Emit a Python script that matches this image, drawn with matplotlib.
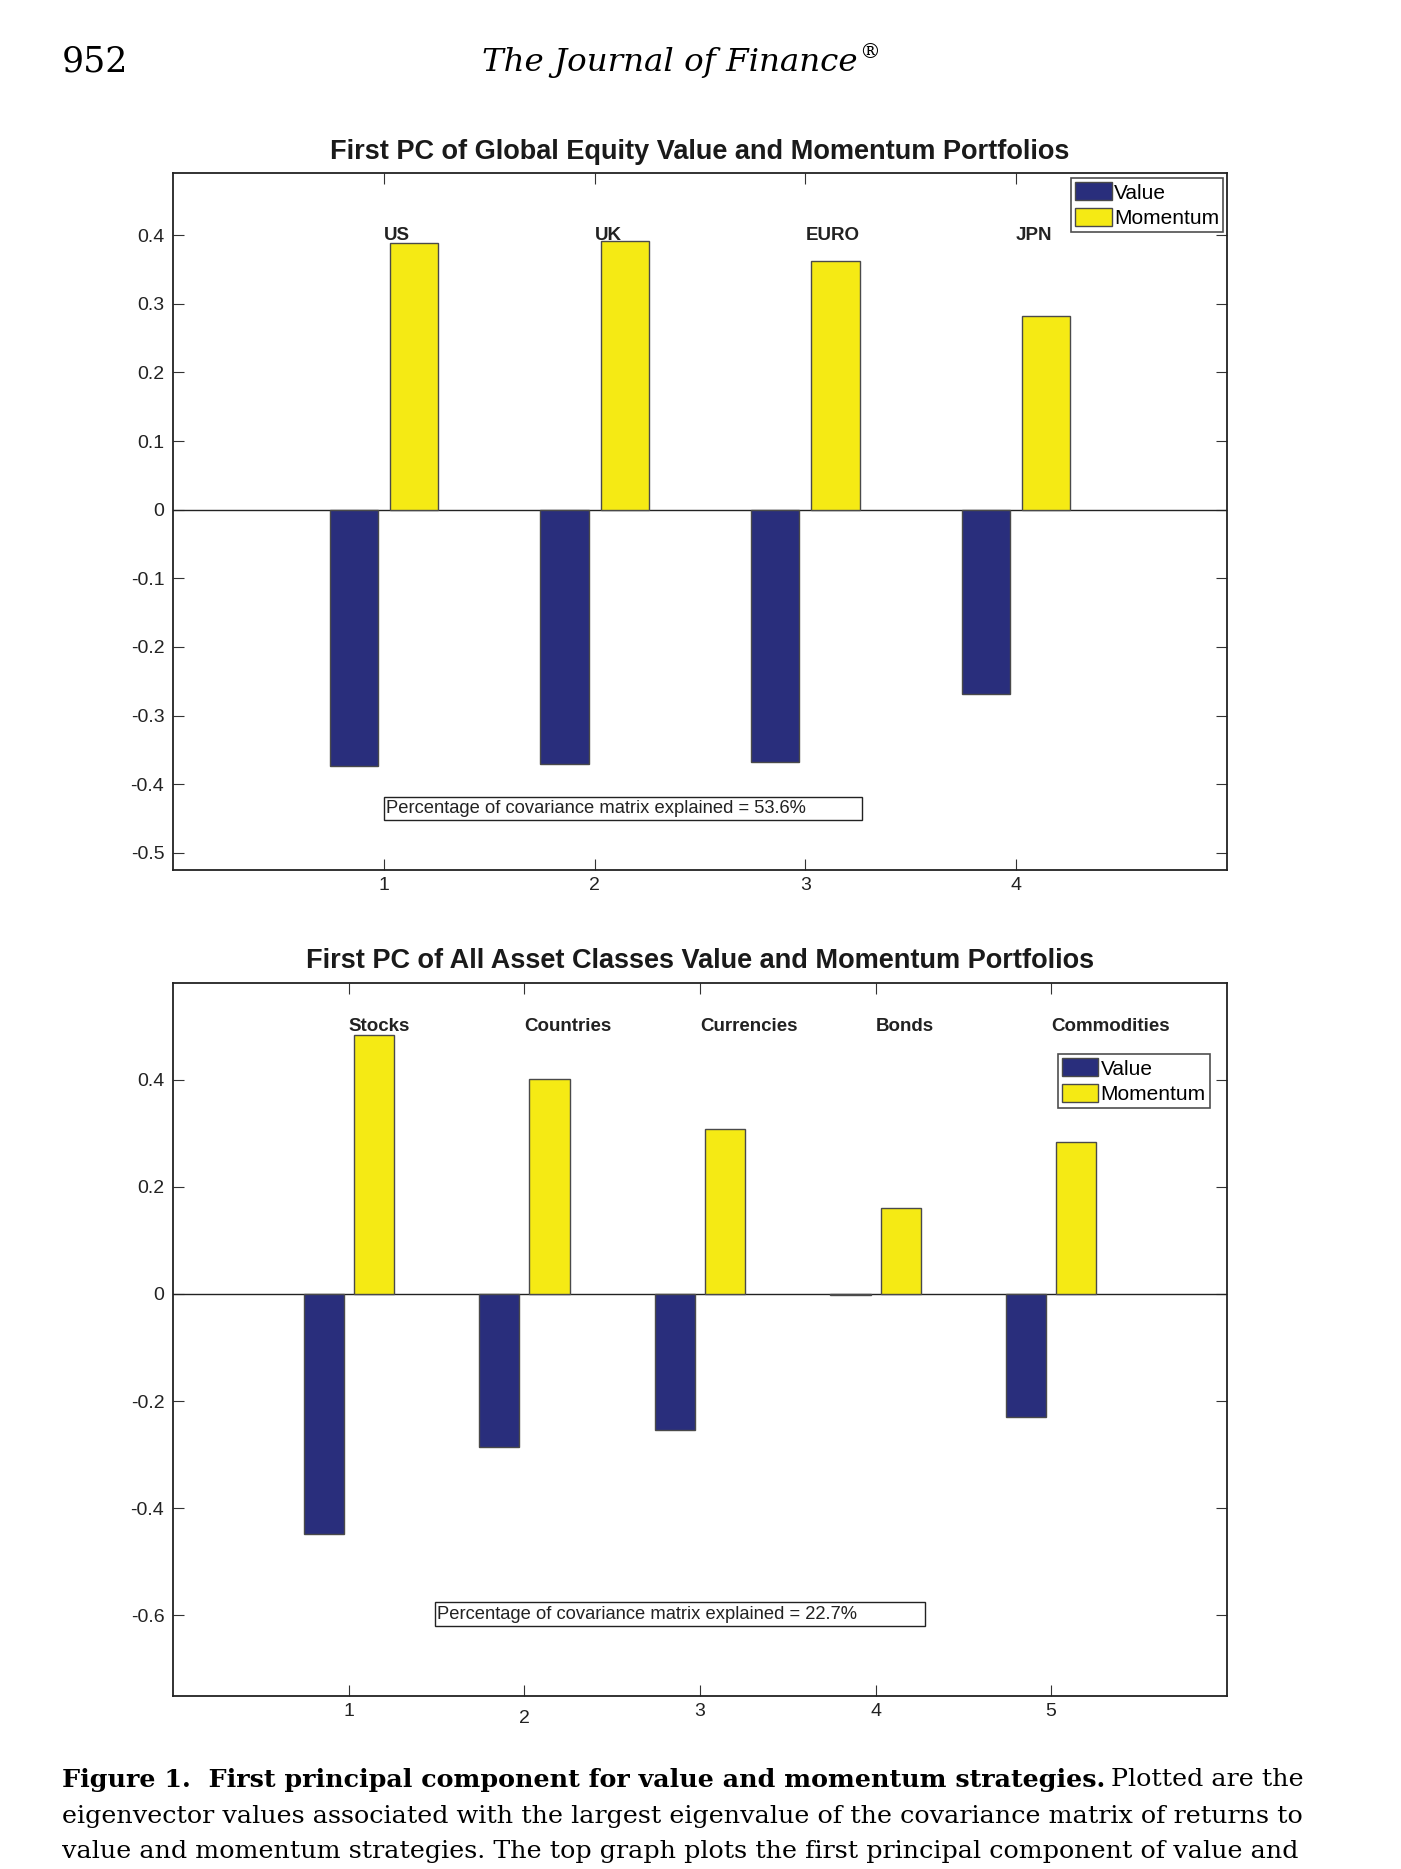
import numpy as np
import matplotlib
matplotlib.use("Agg")
import matplotlib.pyplot as plt
import matplotlib.transforms as mtransforms
from matplotlib.patches import Rectangle

# top panel: global equity
eq_regions = ["US", "UK", "EURO", "JPN"]
eq_value = [-0.374, -0.370, -0.367, -0.268]
eq_momentum = [0.388, 0.392, 0.362, 0.283]
eq_explained = "Percentage of covariance matrix explained = 53.6%"

# bottom panel: all asset classes
ac_classes = ["Stocks", "Countries", "Currencies", "Bonds", "Commodities"]
ac_value = [-0.448, -0.285, -0.254, -0.002, -0.229]
ac_momentum = [0.484, 0.402, 0.308, 0.161, 0.283]
ac_explained = "Percentage of covariance matrix explained = 22.7%"

NAVY = "#292e7c"
YELLOW = "#f5ea14"
EDGE = "#4a4a4a"

plt.rcParams["font.family"] = ["Liberation Sans", "DejaVu Sans"]

fig = plt.figure(figsize=(14.01, 18.69), dpi=100)
fig.patch.set_facecolor("white")


def panel(ax, names, val, mom, title, xlim, ylim, yticks, label_y, note, note_box, leg_anchor):
    x = np.arange(1, len(names) + 1)
    w = 0.2286
    off = 0.1429
    ax.bar(x - off, val, w, color=NAVY, edgecolor=EDGE, linewidth=1.0, label="Value", zorder=3)
    ax.bar(x + off, mom, w, color=YELLOW, edgecolor=EDGE, linewidth=1.0, label="Momentum", zorder=3)
    ax.axhline(0, color="#222222", linewidth=1.0, zorder=2)
    ax.set_xlim(*xlim)
    ax.set_ylim(*ylim)
    ax.set_xticks(x)
    ax.set_xticklabels([str(i) for i in x])
    ax.set_yticks(yticks)
    ax.set_yticklabels(["0" if t == 0 else f"{t:g}" for t in yticks])
    ax.tick_params(axis="both", direction="in", length=8, width=0.8, labelsize=14,
                   colors="#333333", labelcolor="#222222")
    ax.tick_params(axis="x", top=True, pad=5)
    ax.tick_params(axis="y", right=True, pad=6.5)
    for s in ax.spines.values():
        s.set_linewidth(1.3)
        s.set_color("#222222")
    ax.set_title(title, fontsize=19.5, fontweight="bold", y=1.031, va="center", pad=0,
                 color="#1a1a1a")
    for xi, name in zip(x, names):
        ax.text(xi, label_y, name, fontsize=13.5, fontweight="bold", ha="left", va="center",
                color="#222222", zorder=4)
    x0, x1, y0, y1 = note_box
    ax.add_patch(Rectangle((x0, y0), x1 - x0, y1 - y0, facecolor="white",
                           edgecolor="#222222", linewidth=1.0, zorder=4))
    ax.text(x0 + 0.002 * (xlim[1] - xlim[0]), (y0 + y1) / 2, note, fontsize=13.2,
            ha="left", va="center", color="#222222", zorder=5)
    leg = ax.legend(loc="upper right", bbox_to_anchor=leg_anchor, borderaxespad=0,
                    fontsize=15, frameon=True, fancybox=False, edgecolor="#222222",
                    handlelength=1.75, handleheight=0.95, handletextpad=0.12,
                    borderpad=0.2, labelspacing=0.25)
    leg.get_frame().set_linewidth(1.2)
    leg.set_zorder(6)


ax1 = fig.add_axes([0.1237, 0.5345, 0.7519, 0.3727])
panel(ax1, eq_regions, eq_value, eq_momentum,
      "First PC of Global Equity Value and Momentum Portfolios",
      (0, 5), (-0.525, 0.49), [-0.5, -0.4, -0.3, -0.2, -0.1, 0, 0.1, 0.2, 0.3, 0.4],
      0.4, eq_explained, (1.0, 3.267, -0.452, -0.418), (0.9968, 0.9931))

ax2 = fig.add_axes([0.1237, 0.0927, 0.7519, 0.3812])
panel(ax2, ac_classes, ac_value, ac_momentum,
      "First PC of All Asset Classes Value and Momentum Portfolios",
      (0, 6), (-0.75, 0.58), [-0.6, -0.4, -0.2, 0, 0.2, 0.4],
      0.5, ac_explained, (1.488, 4.281, -0.620, -0.575), (0.9841, 0.9003))

# the "2" on the lower axis sits a little lower in the original
lab = ax2.get_xticklabels()[1]
lab.set_transform(lab.get_transform() + mtransforms.ScaledTranslation(0, -5 / 72, fig.dpi_scale_trans))

# page furniture
fig.text(62 / 1401, 1 - 62 / 1869, "952", fontsize=25, family="DejaVu Serif",
         ha="left", va="center")
jt = fig.text(670 / 1401, 1 - 62 / 1869, "The Journal of Finance", fontsize=23.4,
              family="DejaVu Serif", style="italic", ha="center", va="center")
fig.canvas.draw()
jb = jt.get_window_extent()
fig.text(jb.x1 / 1401 + 0.0007, 1 - 53 / 1869, "®", fontsize=15, family="DejaVu Serif",
         ha="left", va="center")

cap_lines = [
    "eigenvector values associated with the largest eigenvalue of the covariance matrix of returns to",
    "value and momentum strategies. The top graph plots the first principal component of value and",
]
t = fig.text(62 / 1401, 1 - 1780 / 1869, "Figure 1.  First principal component for value and momentum strategies.",
             fontsize=18.3, family="DejaVu Serif", fontweight="bold", ha="left", va="center")
fig.canvas.draw()
bb = t.get_window_extent()
fig.text(bb.x1 / 1401 + 0.004, 1 - 1780 / 1869, "Plotted are the", fontsize=18.3,
         family="DejaVu Serif", ha="left", va="center")
for i, line in enumerate(cap_lines):
    fig.text(62 / 1401, 1 - (1816 + 35 * i) / 1869, line, fontsize=18.3, family="DejaVu Serif",
             ha="left", va="center")

fig.savefig("out.png", dpi=100, facecolor="white")
